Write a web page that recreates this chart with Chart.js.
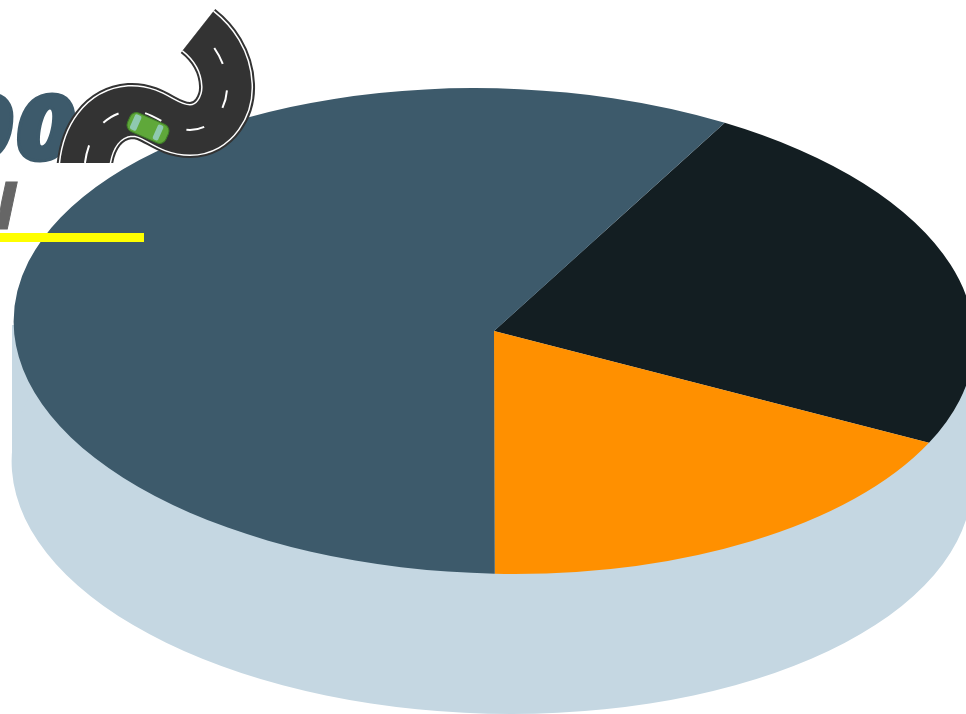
<!DOCTYPE html>
<html>
<head>
<meta charset="utf-8">
<title>Pie</title>
<script src="https://cdn.jsdelivr.net/npm/chart.js@4"></script>
<style>
html, body { margin: 0; padding: 0; background: #fff; overflow: hidden; }
#wrap { position: relative; width: 966px; height: 714px; overflow: hidden; }
#wrap canvas { position: absolute; left: 0; top: 0; }
#logo { position: absolute; left: 0; top: 0; }
.logo-text { position: absolute; font-family: "Open Sans", sans-serif; font-weight: 800; font-style: italic; line-height: 1; white-space: nowrap; }
</style>
</head>
<body>
<div id="wrap">
    <canvas id="pie" width="966" height="714"></canvas>
    <div class="logo-text" style="right:889px; top:80px; font-size:90px; letter-spacing:2px; color:#3d5a6b; -webkit-text-stroke:3px #3d5a6b; transform:scaleX(1.14); transform-origin:right;">00</div>
    <div class="logo-text" style="right:949px; top:170px; font-size:66px; color:#666; -webkit-text-stroke:1px #666;">N</div>
    <svg id="logo" width="966" height="714">
        <rect x="0" y="233" width="144" height="9" fill="#ffff00"/>
        <clipPath id="roadClip"><rect x="0" y="0" width="300" height="163"/></clipPath>
        <g clip-path="url(#roadClip)" fill="none">
            <path d="M84,175 C85,135 105,113 130,111 C155,110 165,130 190,130 C215,130 228,105 227,85 C226,60 212,42 198,31" stroke="#333" stroke-width="56"/>
            <path d="M84,175 C85,135 105,113 130,111 C155,110 165,130 190,130 C215,130 228,105 227,85 C226,60 212,42 198,31" stroke="#fff" stroke-width="52"/>
            <path d="M84,175 C85,135 105,113 130,111 C155,110 165,130 190,130 C215,130 228,105 227,85 C226,60 212,42 198,31" stroke="#333" stroke-width="49"/>
            <path d="M84,175 C85,135 105,113 130,111 C155,110 165,130 190,130 C215,130 228,105 227,85 C226,60 212,42 198,31" stroke="#fff" stroke-width="2" stroke-dasharray="18 27" stroke-dashoffset="-12"/>
        </g>
        <g transform="translate(148,128) rotate(24)">
            <rect x="-21" y="-10" width="42" height="20" rx="7" fill="#5fa83a" stroke="#3f7d28" stroke-width="1"/>
            <rect x="-17" y="-8" width="7" height="16" rx="2" fill="#8fc9b0"/>
            <rect x="8" y="-8" width="6" height="16" rx="2" fill="#8fc9b0"/>
        </g>
    </svg>
</div>
<script>
// Pie values
var categories = ['Segment 1', 'Segment 2', 'Segment 3'];
var seriesValues = [24, 18, 58];
var sliceColors = ['#131e22', '#ff9000', '#3d5a6b'];
var startAngle = 31;

// Tilt of the disc
var squash = 0.506;
var shear = 0.04;
var wallDepth = 140;
var wallColor = '#c5d7e2';

function tilt(ctx, cy, dy) {
    ctx.transform(1, 0, shear, squash, -shear * cy, cy + dy - squash * cy);
}

// Squashes the pie into a disc and draws its side wall first
var discPlugin = {
    id: 'disc',
    beforeDatasetsDraw: function(chart) {
        var ctx = chart.ctx;
        var arc = chart.getDatasetMeta(0).data[0];
        var cx = arc.x, cy = arc.y, r = arc.outerRadius;

        ctx.save();
        ctx.fillStyle = wallColor;
        ctx.beginPath();
        ctx.rect(cx - r - 2, cy - 6, 2 * r + 4, wallDepth + 6);
        ctx.fill();
        ctx.restore();

        ctx.save();
        tilt(ctx, cy, wallDepth);
        ctx.fillStyle = wallColor;
        ctx.beginPath();
        ctx.arc(cx - 2, cy, r, 0, Math.PI * 2);
        ctx.fill();
        ctx.restore();

        ctx.save();
        tilt(ctx, cy, 0);
    },
    afterDatasetsDraw: function(chart) {
        chart.ctx.restore();
    }
};

document.addEventListener('DOMContentLoaded', function() {
    var ctx = document.getElementById('pie').getContext('2d');
    new Chart(ctx, {
        type: 'pie',
        data: {
            labels: categories,
            datasets: [{
                data: seriesValues,
                backgroundColor: sliceColors,
                borderWidth: 0
            }]
        },
        options: {
            responsive: false,
            animation: false,
            rotation: startAngle,
            radius: 480,
            layout: { padding: { left: 22, bottom: 52 } },
            plugins: {
                legend: { display: false },
                tooltip: { enabled: false }
            }
        },
        plugins: [discPlugin]
    });
});
</script>
</body>
</html>
